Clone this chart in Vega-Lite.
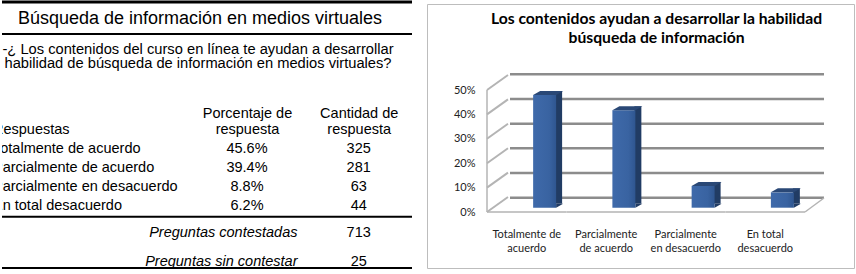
{
  "$schema": "https://vega.github.io/schema/vega-lite/v6.json",
  "padding": 0,
  "background": "white",
  "config": {
    "view": {"stroke": null},
    "text": {"font": "Liberation Sans", "fontSize": 14.5, "color": "black"}
  },
  "datasets": {
    "tabla": [
      {"respuesta": "Totalmente de acuerdo", "porcentaje": 0.456, "cantidad": 325},
      {"respuesta": "Parcialmente de acuerdo", "porcentaje": 0.394, "cantidad": 281},
      {"respuesta": "Parcialmente en desacuerdo", "porcentaje": 0.088, "cantidad": 63},
      {"respuesta": "En total desacuerdo", "porcentaje": 0.062, "cantidad": 44}
    ],
    "resumen": [
      {"concepto": "Preguntas contestadas", "cantidad": 713},
      {"concepto": "Preguntas sin contestar", "cantidad": 25}
    ],
    "encabezado": [{"columna": "Respuestas"}],
    "titulo": [{"titulo": "Búsqueda de información en medios virtuales"}],
    "pregunta": [{"pregunta": "-¿ Los contenidos del curso en línea te ayudan a desarrollar\nhabilidad de búsqueda de información en medios virtuales?"}],
    "grafico": [{"titulo": "Los contenidos ayudan a desarrollar la habilidad\nbúsqueda de información"}],
    "grilla": [{"v": 0}, {"v": 0.1}, {"v": 0.2}, {"v": 0.3}, {"v": 0.4}, {"v": 0.5}]
  },
  "bounds": "flush",
  "spacing": 15,
  "hconcat": [
    {
      "width": 410,
      "height": 264,
      "resolve": {"scale": {"x": "independent", "y": "independent"}},
      "layer": [
        {
          "data": {"name": "titulo"},
          "layer": [
            {
              "mark": {"type": "rule", "color": "black", "strokeWidth": 3},
              "encoding": {
                "y": {"field": "titulo", "type": "nominal", "bandPosition": 0,
                      "scale": {"type": "band", "range": [-2, 30], "paddingInner": 0, "paddingOuter": 0}, "axis": null}
              }
            },
            {
              "mark": {"type": "rule", "color": "black", "strokeWidth": 2},
              "encoding": {
                "y": {"field": "titulo", "type": "nominal", "bandPosition": 1}
              }
            },
            {
              "mark": {"type": "text", "fontSize": 18, "baseline": "alphabetic", "align": "center", "dx": -7},
              "encoding": {
                "y": {"field": "titulo", "type": "nominal", "bandPosition": 0.7},
                "text": {"field": "titulo", "type": "nominal"}
              }
            }
          ]
        },
        {
          "data": {"name": "pregunta"},
          "mark": {"type": "text", "fontSize": 14.7, "baseline": "alphabetic", "align": "center", "lineBreak": "\n", "lineHeight": 13.8, "dx": -9, "clip": true},
          "encoding": {
            "y": {"field": "pregunta", "type": "nominal",
                  "scale": {"type": "point", "range": [50.3, 50.3], "padding": 0}, "axis": null},
            "text": {"field": "pregunta", "type": "nominal"}
          }
        },
        {
          "layer": [
            {
              "data": {"name": "encabezado"},
              "mark": {"type": "text", "align": "left", "baseline": "alphabetic", "clip": true},
              "encoding": {
                "x": {"datum": "Respuestas", "type": "nominal",
                      "scale": {"type": "point", "domain": ["Respuestas"], "range": [-9, -9], "padding": 0}, "axis": null},
                "y": {"field": "columna", "type": "nominal", "sort": null, "bandPosition": 0.663,
                      "scale": {"type": "band", "domain": ["Respuestas", "Totalmente de acuerdo", "Parcialmente de acuerdo", "Parcialmente en desacuerdo", "En total desacuerdo"],
                                "range": [117.7, 212.7], "paddingInner": 0, "paddingOuter": 0}, "axis": null},
                "text": {"field": "columna", "type": "nominal"}
              }
            },
            {
              "data": {"name": "tabla"},
              "mark": {"type": "text", "align": "left", "baseline": "alphabetic", "clip": true},
              "encoding": {
                "x": {"datum": "Respuestas", "type": "nominal"},
                "y": {"field": "respuesta", "type": "nominal", "sort": null, "bandPosition": 0.663},
                "text": {"field": "respuesta", "type": "nominal"}
              }
            }
          ]
        },
        {
          "data": {"name": "tabla"},
          "layer": [
            {
              "mark": {"type": "text", "baseline": "alphabetic", "align": "center"},
              "encoding": {
                "x": {"datum": "Porcentaje de respuesta", "type": "nominal",
                      "scale": {"type": "point", "domain": ["Porcentaje de respuesta", "Cantidad de respuesta"], "range": [245, 356.7], "padding": 0},
                      "axis": {"orient": "top", "offset": -113, "domain": false, "ticks": false, "tickSize": 0, "grid": false,
                               "labelPadding": 0, "labelBaseline": "alphabetic", "labelAngle": 0, "labelAlign": "center",
                               "labelFont": "Liberation Sans", "labelFontSize": 14.5, "labelColor": "black",
                               "labelLineHeight": 16.7, "labelLimit": 0, "labelOverlap": false,
                               "labelExpr": "[slice(datum.value, 0, indexof(datum.value, ' respuesta')), 'respuesta']",
                               "title": null}},
                "y": {"field": "respuesta", "type": "nominal", "sort": null, "bandPosition": 0.663,
                      "scale": {"type": "band", "domain": ["Totalmente de acuerdo", "Parcialmente de acuerdo", "Parcialmente en desacuerdo", "En total desacuerdo"],
                                "range": [136.7, 212.7], "paddingInner": 0, "paddingOuter": 0},
                      "axis": null},
                "text": {"field": "porcentaje", "type": "quantitative", "format": ".1%"}
              }
            },
            {
              "mark": {"type": "text", "baseline": "alphabetic", "align": "center"},
              "encoding": {
                "x": {"datum": "Cantidad de respuesta", "type": "nominal"},
                "y": {"field": "respuesta", "type": "nominal", "sort": null, "bandPosition": 0.663},
                "text": {"field": "cantidad", "type": "quantitative"}
              }
            },
            {
              "transform": [{"filter": "datum.respuesta === 'En total desacuerdo'"}],
              "mark": {"type": "rule", "color": "black", "strokeWidth": 2},
              "encoding": {
                "y": {"field": "respuesta", "type": "nominal", "sort": null, "bandPosition": 1}
              }
            }
          ]
        },
        {
          "data": {"name": "resumen"},
          "layer": [
            {
              "mark": {"type": "text", "baseline": "alphabetic", "align": "center"},
              "encoding": {
                "x": {"datum": "Cantidad de respuesta", "type": "nominal",
                      "scale": {"type": "point", "domain": ["Cantidad de respuesta"], "range": [356.7, 356.7], "padding": 0}, "axis": null},
                "y": {"field": "concepto", "type": "nominal", "sort": null, "bandPosition": 0.931,
                      "scale": {"type": "band", "domain": ["Preguntas contestadas", "Preguntas sin contestar"],
                                "range": [206, 264], "paddingInner": 0, "paddingOuter": 0},
                      "axis": {"orient": "left", "offset": -299, "domain": false, "ticks": false, "tickSize": 0, "grid": false,
                               "labelPadding": 4, "labelAlign": "right", "labelBaseline": "alphabetic", "labelOffset": 12.5,
                               "labelFont": "Liberation Sans", "labelFontSize": 14.5, "labelFontStyle": "italic",
                               "labelColor": "black", "labelLimit": 0, "title": null}},
                "text": {"field": "cantidad", "type": "quantitative"}
              }
            },
            {
              "transform": [{"filter": "datum.concepto === 'Preguntas sin contestar'"}],
              "mark": {"type": "rule", "color": "black", "strokeWidth": 2},
              "encoding": {
                "y": {"field": "concepto", "type": "nominal", "sort": null, "bandPosition": 1}
              }
            }
          ]
        }
      ]
    },
    {
      "width": 427,
      "height": 264,
      "view": {"stroke": "#bdbdbd", "strokeWidth": 1},
      "resolve": {"scale": {"x": "independent", "y": "independent"}},
      "layer": [
        {
          "data": {"name": "grafico"},
          "mark": {"type": "text", "font": "Lato", "fontSize": 15.7, "fontWeight": "bold", "color": "black",
                   "align": "center", "baseline": "alphabetic", "lineBreak": "\n", "lineHeight": 19.5, "dx": 16},
          "encoding": {
            "y": {"field": "titulo", "type": "nominal",
                  "scale": {"type": "point", "range": [19.8, 19.8], "padding": 0}, "axis": null},
            "text": {"field": "titulo", "type": "nominal"}
          }
        },
        {
          "data": {"name": "grilla"},
          "mark": {"type": "rule", "color": "#8c8c8c", "strokeWidth": 2.5},
          "encoding": {
            "x": {"datum": 0, "type": "quantitative", "scale": {"domain": [0, 1], "range": [83, 397]}, "axis": null},
            "x2": {"datum": 1},
            "y": {"field": "v", "type": "quantitative", "scale": {"domain": [0, 0.5], "range": [193.7, 70.3], "nice": false, "zero": false}, "axis": null}
          }
        },
        {
          "data": {"name": "grilla"},
          "layer": [
            {
              "mark": {"type": "point", "shape": "M0 0L21 -15", "size": 4, "filled": false, "stroke": "#b4b4b4", "strokeWidth": 2, "opacity": 1},
              "encoding": {
                "x": {"datum": 0, "type": "quantitative", "scale": {"domain": [0, 1], "range": [60, 378]}, "axis": null},
                "y": {"field": "v", "type": "quantitative", "scale": {"domain": [0, 0.5], "range": [208, 86], "nice": false, "zero": false},
                      "axis": {"orient": "left", "offset": -52, "domain": false, "ticks": false, "tickSize": 0, "grid": false,
                               "labelPadding": 4, "values": [0, 0.1, 0.2, 0.3, 0.4, 0.5], "format": ".0%",
                               "labelFont": "Lato", "labelFontSize": 11, "labelColor": "#222222", "title": null}}
              }
            },
            {
              "mark": {"type": "rule", "color": "#b4b4b4", "strokeWidth": 1.5},
              "encoding": {
                "x": {"datum": 0, "type": "quantitative"},
                "y": {"aggregate": "min", "field": "v", "type": "quantitative"},
                "y2": {"aggregate": "max", "field": "v"}
              }
            },
            {
              "transform": [{"filter": "datum.v === 0"}],
              "mark": {"type": "point", "shape": "M0 0L19 -14", "size": 4, "filled": false, "stroke": "#b4b4b4", "strokeWidth": 1.5, "opacity": 1},
              "encoding": {
                "x": {"datum": 1, "type": "quantitative"},
                "y": {"field": "v", "type": "quantitative"}
              }
            }
          ]
        },
        {
          "data": {"name": "tabla"},
          "mark": {"type": "bar", "filled": false, "stroke": "#b4b4b4", "strokeWidth": 1.5},
          "encoding": {
            "x": {"field": "respuesta", "type": "nominal", "sort": null,
                  "scale": {"type": "band", "range": [60, 378], "paddingInner": 0, "paddingOuter": 0},
                  "axis": {"orient": "bottom", "offset": -40, "domain": false, "ticks": false, "tickSize": 0, "grid": false,
                           "labelPadding": 0, "labelAngle": 0, "labelBaseline": "top", "labelLineHeight": 14.3,
                           "labelFont": "Lato", "labelFontSize": 11, "labelColor": "#222222", "labelLimit": 0, "labelOverlap": false,
                           "labelExpr": "datum.value == 'Totalmente de acuerdo' ? ['Totalmente de', 'acuerdo'] : datum.value == 'Parcialmente de acuerdo' ? ['Parcialmente', 'de acuerdo'] : datum.value == 'Parcialmente en desacuerdo' ? ['Parcialmente', 'en desacuerdo'] : ['En total', 'desacuerdo']",
                           "title": null}},
            "y": {"datum": 0, "type": "quantitative", "scale": {"domain": [0, 0.5], "range": [208, 86], "nice": false}, "axis": null},
            "y2": {"datum": 0}
          }
        },
        {
          "data": {"name": "tabla"},
          "mark": {"type": "bar", "color": "#213c64"},
          "encoding": {
            "x": {"field": "respuesta", "type": "nominal", "sort": null,
                  "scale": {"type": "band", "range": [92, 409], "paddingInner": 0.912, "paddingOuter": 0.456}, "axis": null},
            "y": {"field": "porcentaje", "type": "quantitative", "scale": {"domain": [0, 0.5], "range": [199.7, 76.1], "nice": false}, "axis": null}
          }
        },
        {
          "data": {"name": "tabla"},
          "layer": [
            {
              "mark": {"type": "point", "shape": "M11.5 0L11.5 -4L18.5 -4Z", "size": 4, "filled": true, "color": "#213c64", "opacity": 1, "strokeWidth": 0},
              "encoding": {
                "x": {"field": "respuesta", "type": "nominal", "sort": null,
                      "scale": {"type": "band", "range": [78, 395], "paddingInner": 0.71, "paddingOuter": 0.355}, "axis": null},
                "y": {"datum": 0, "type": "quantitative", "scale": {"domain": [0, 0.5], "range": [203.7, 80.1], "nice": false}, "axis": null}
              }
            },
            {
              "mark": {"type": "bar", "color": {"gradient": "linear", "x1": 0, "x2": 1, "y1": 0, "y2": 0,
                        "stops": [{"offset": 0, "color": "#3f6aaa"}, {"offset": 0.7, "color": "#3963a1"}, {"offset": 1, "color": "#2f5690"}]}},
              "encoding": {
                "x": {"field": "respuesta", "type": "nominal", "sort": null},
                "y": {"field": "porcentaje", "type": "quantitative"}
              }
            },
            {
              "mark": {"type": "point", "shape": "M-11.5 0L11.5 0L18.5 -4L-4.5 -4Z", "size": 4, "filled": true, "color": "#2a4876", "opacity": 1, "strokeWidth": 0},
              "encoding": {
                "x": {"field": "respuesta", "type": "nominal", "sort": null},
                "y": {"field": "porcentaje", "type": "quantitative"}
              }
            }
          ]
        }
      ]
    }
  ]
}
